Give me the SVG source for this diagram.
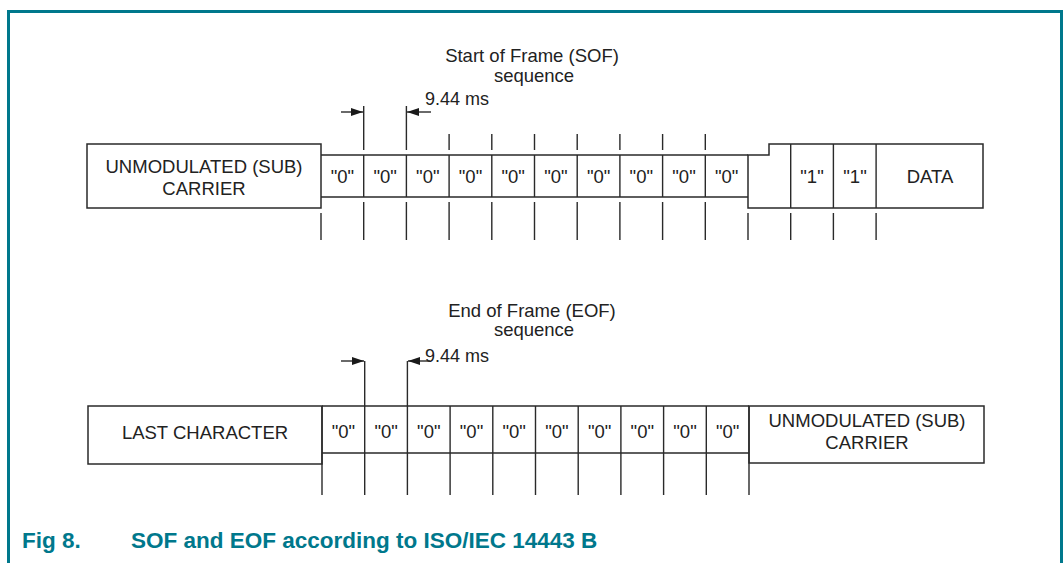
<svg xmlns="http://www.w3.org/2000/svg" width="1064" height="563" viewBox="0 0 1064 563">
<style>
.ln{stroke:#2a2a2a;stroke-width:1.4;fill:none}
.bx{stroke:#2a2a2a;stroke-width:1.5;fill:#fff}
.t{font-family:"Liberation Sans",Arial,sans-serif;font-size:18.5px;fill:#222;text-anchor:middle}
.tl{font-family:"Liberation Sans",Arial,sans-serif;font-size:18px;fill:#222}
.cap{font-family:"Liberation Sans",Arial,sans-serif;font-size:22.5px;font-weight:bold;fill:#00788c}
</style>
<defs>
<marker id="ah" viewBox="0 0 12 8" refX="12" refY="4" markerWidth="12" markerHeight="8" markerUnits="userSpaceOnUse" orient="auto">
<path d="M0,0 L12,4 L0,8 Z" fill="#1a1a1a"/>
</marker>
</defs>
<rect width="1064" height="563" fill="#fff"/>
<path d="M8.5,563 V11.5 H1061.5 V563" fill="none" stroke="#00788c" stroke-width="3"/>

<g id="sof">
<g id="sof-title">
<text class="t" x="532" y="62">Start of Frame (SOF)</text>
<text class="t" x="534" y="82">sequence</text>
<text class="tl" x="425" y="105">9.44 ms</text>
</g>
<g id="sof-carrier">
<rect class="bx" x="87" y="144" width="234" height="64"/>
<text class="t" x="204" y="173">UNMODULATED (SUB)</text>
<text class="t" x="204" y="195">CARRIER</text>
</g>
<g id="sof-zeros">
<path class="ln" d="M321,155 H748 M321,197 H748 M363.7,155 V197 M406.4,155 V197 M449.1,155 V197 M491.8,155 V197 M534.5,155 V197 M577.2,155 V197 M619.9,155 V197 M662.6,155 V197 M705.3,155 V197"/>
<text class="t" x="342.4" y="183">"0"</text>
<text class="t" x="385.1" y="183">"0"</text>
<text class="t" x="427.8" y="183">"0"</text>
<text class="t" x="470.5" y="183">"0"</text>
<text class="t" x="513.2" y="183">"0"</text>
<text class="t" x="555.9" y="183">"0"</text>
<text class="t" x="598.6" y="183">"0"</text>
<text class="t" x="641.3" y="183">"0"</text>
<text class="t" x="684" y="183">"0"</text>
<text class="t" x="726.7" y="183">"0"</text>
</g>
<g id="sof-ones">
<path class="bx" d="M748,155 H769 V144 H983 V208 H748 Z"/>
<path class="ln" d="M790.7,144 V208 M833.4,144 V208 M876.1,144 V208"/>
<text class="t" x="812" y="183">"1"</text>
<text class="t" x="855" y="183">"1"</text>
<text class="t" x="930" y="183">DATA</text>
</g>
</g>

<g id="eof">
<g id="eof-title">
<text class="t" x="532" y="317">End of Frame (EOF)</text>
<text class="t" x="534" y="336">sequence</text>
<text class="tl" x="425" y="362">9.44 ms</text>
</g>
<g id="eof-last">
<rect class="bx" x="88" y="406" width="234" height="58"/>
<text class="t" x="205" y="439">LAST CHARACTER</text>
</g>
<g id="eof-zeros">
<path class="ln" d="M322,406 H749 M322,453 H749"/>
<text class="t" x="343.4" y="438">"0"</text>
<text class="t" x="386.1" y="438">"0"</text>
<text class="t" x="428.8" y="438">"0"</text>
<text class="t" x="471.5" y="438">"0"</text>
<text class="t" x="514.2" y="438">"0"</text>
<text class="t" x="556.9" y="438">"0"</text>
<text class="t" x="599.6" y="438">"0"</text>
<text class="t" x="642.3" y="438">"0"</text>
<text class="t" x="685" y="438">"0"</text>
<text class="t" x="727.7" y="438">"0"</text>
</g>
<g id="eof-carrier">
<rect class="bx" x="749" y="406" width="235" height="57"/>
<text class="t" x="867" y="427">UNMODULATED (SUB)</text>
<text class="t" x="867" y="449">CARRIER</text>
</g>
</g>

<g id="connectors">
<path class="ln" d="M363.7,106 V150 M406.4,106 V150 M449.1,134 V150 M491.8,134 V150 M534.5,134 V150 M577.2,134 V150 M619.9,134 V150 M662.6,134 V150 M705.3,134 V150"/>
<path class="ln" d="M363.7,202 V240 M406.4,202 V240 M449.1,202 V240 M491.8,202 V240 M534.5,202 V240 M577.2,202 V240 M619.9,202 V240 M662.6,202 V240 M705.3,202 V240 M321,213 V240 M748,213 V240 M790.7,213 V240 M833.4,213 V240 M876.1,213 V240"/>
<line class="ln" x1="341" y1="112" x2="363" y2="112" marker-end="url(#ah)"/>
<line class="ln" x1="431" y1="112" x2="407" y2="112" marker-end="url(#ah)"/>
<path class="ln" d="M322,406 V495 M364.7,361 V495 M407.4,361 V495 M450.1,406 V495 M492.8,406 V495 M535.5,406 V495 M578.2,406 V495 M620.9,406 V495 M663.6,406 V495 M706.3,406 V495 M749,406 V495"/>
<line class="ln" x1="341" y1="361" x2="364" y2="361" marker-end="url(#ah)"/>
<line class="ln" x1="430" y1="361" x2="408" y2="361" marker-end="url(#ah)"/>
</g>

<g id="caption">
<text class="cap" x="22" y="548">Fig 8.</text>
<text class="cap" x="131" y="548">SOF and EOF according to ISO/IEC 14443 B</text>
</g>
</svg>
